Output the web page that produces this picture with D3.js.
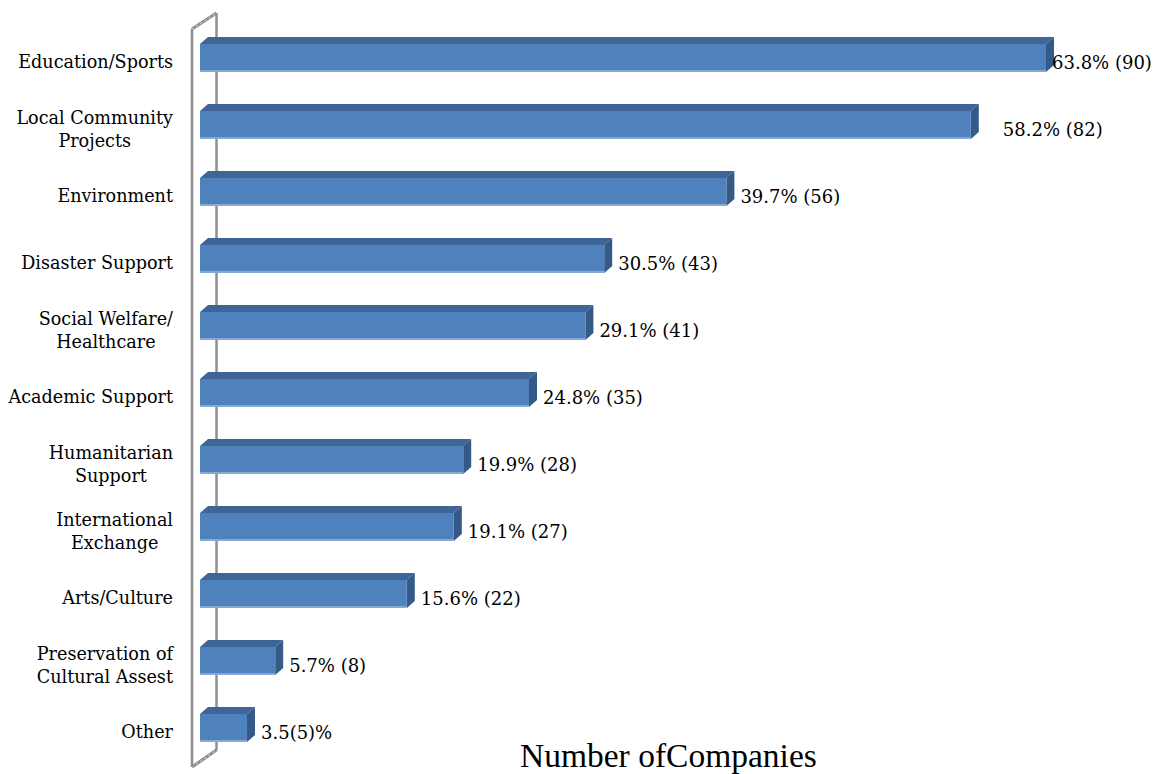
<!DOCTYPE html>
<html>
<head>
<meta charset="utf-8">
<script src="https://cdn.jsdelivr.net/npm/d3@7/dist/d3.min.js"></script>
<style>
  html, body { margin: 0; padding: 0; background: #ffffff; }
  svg { display: block; }
</style>
</head>
<body>
<svg id="chart" width="1157" height="774"></svg>
<script>
// Activity areas (line breaks mark wrapped labels)
const categories = [
  "Education/Sports",
  "Local Community\nProjects",
  "Environment",
  "Disaster Support",
  "Social Welfare/\nHealthcare",
  "Academic Support",
  "Humanitarian\nSupport",
  "International\nExchange",
  "Arts/Culture",
  "Preservation of\nCultural Assest",
  "Other"
];
// Number of companies per area
const counts = [90, 82, 56, 43, 41, 35, 28, 27, 22, 8, 5];
// Share of companies, in percent
const percents = [63.8, 58.2, 39.7, 30.5, 29.1, 24.8, 19.9, 19.1, 15.6, 5.7, 3.5];
// Data labels as printed beside each bar
const valueLabels = [
  "63.8% (90)", "58.2% (82)", "39.7% (56)", "30.5% (43)", "29.1% (41)",
  "24.8% (35)", "19.9% (28)", "19.1% (27)", "15.6% (22)", "5.7% (8)", "3.5(5)%"
];
const axisTitle = "Number ofCompanies";

const svg = d3.select("#chart");

// Scales
const x = d3.scaleLinear().domain([0, 90]).range([200, 1046]);
const y = d3.scalePoint().domain(categories).range([58, 728]);

const barH = 28;          // front face height
const dx = 8, dy = -7;    // bar depth offset

// Colours
const front = "#4f81bd";
const topC = "#3f6597";
const side = "#355a88";
const lip = "#86a9d6";
const wall = "#8e8e8e";

// Back wall edge (drawn first, bars sit in front of it)
svg.append("line")
  .attr("x1", 216.5).attr("y1", 13).attr("x2", 216.5).attr("y2", 750)
  .attr("stroke", wall).attr("stroke-width", 2.5);

// Wall top and bottom edges
function wallEdge(x1, y1, x2, y2) {
  svg.append("line")
    .attr("x1", x1).attr("y1", y1).attr("x2", x2).attr("y2", y2)
    .attr("stroke", wall).attr("stroke-width", 3.2);
  svg.append("line")
    .attr("x1", x1).attr("y1", y1).attr("x2", x2).attr("y2", y2)
    .attr("stroke", "#e6e6e6").attr("stroke-width", 1)
    .attr("stroke-dasharray", "2,3");
}
wallEdge(192, 29, 216.5, 13);
wallEdge(192, 767, 216.5, 750);

// Front wall edge
svg.append("line")
  .attr("x1", 192).attr("y1", 29).attr("x2", 192).attr("y2", 767)
  .attr("stroke", wall).attr("stroke-width", 2.5);

const rows = categories.map((c, i) => ({ cat: c, count: counts[i], pct: percents[i], label: valueLabels[i] }));

const bars = svg.append("g").selectAll("g.bar").data(rows).join("g").attr("class", "bar");

// top face
bars.append("path")
  .attr("fill", topC)
  .attr("d", d => {
    const x0 = x(0), x1 = x(d.count), t = y(d.cat) - barH / 2;
    return `M${x0},${t} L${x0 + dx},${t + dy} L${x1 + dx},${t + dy} L${x1},${t} Z`;
  });
// side face
bars.append("path")
  .attr("fill", side)
  .attr("d", d => {
    const x1 = x(d.count), t = y(d.cat) - barH / 2, b = t + barH;
    return `M${x1},${t} L${x1 + dx},${t + dy} L${x1 + dx},${b + dy} L${x1},${b} Z`;
  });
// front face
bars.append("rect")
  .attr("fill", front)
  .attr("x", x(0))
  .attr("y", d => y(d.cat) - barH / 2)
  .attr("width", d => x(d.count) - x(0))
  .attr("height", barH);
// light lower edge
bars.append("rect")
  .attr("fill", lip)
  .attr("x", x(0))
  .attr("y", d => y(d.cat) + barH / 2 - 2)
  .attr("width", d => x(d.count) - x(0))
  .attr("height", 2);

// Category labels: block right-aligned, lines centred within the block
const catSize = 17.6;
const lineH = 23;
const ctx = document.createElement("canvas").getContext("2d");
ctx.font = `${catSize}px 'DejaVu Serif'`;
const labelRight = 173;

const catG = svg.append("g")
  .attr("font-family", "'DejaVu Serif'")
  .attr("font-size", catSize)
  .attr("fill", "#000");

rows.forEach(d => {
  const lines = d.cat.split("\n");
  const w = d3.max(lines, l => ctx.measureText(l).width);
  const cx = labelRight - w / 2;
  const c0 = y(d.cat) + 4 - (lines.length - 1) * lineH / 2;
  const t = catG.append("text")
    .attr("text-anchor", "middle")
    .attr("dominant-baseline", "central");
  lines.forEach((l, k) => {
    t.append("tspan").attr("x", cx).attr("y", c0 + k * lineH).text(l);
  });
});

// Value labels beside each bar
const nudge = { "Education/Sports": -8, "Local Community\nProjects": 18 };
svg.append("g")
  .attr("font-family", "'DejaVu Serif'")
  .attr("font-size", 18)
  .attr("fill", "#000")
  .selectAll("text").data(rows).join("text")
  .attr("x", d => x(d.count) + dx + 6 + (nudge[d.cat] || 0))
  .attr("y", d => y(d.cat) + 4)
  .attr("dominant-baseline", "central")
  .text(d => d.label);

// Axis title
svg.append("text")
  .attr("x", 520).attr("y", 767)
  .attr("font-family", "'Liberation Serif'")
  .attr("font-size", 33.5)
  .attr("fill", "#000")
  .text(axisTitle);
</script>
</body>
</html>
